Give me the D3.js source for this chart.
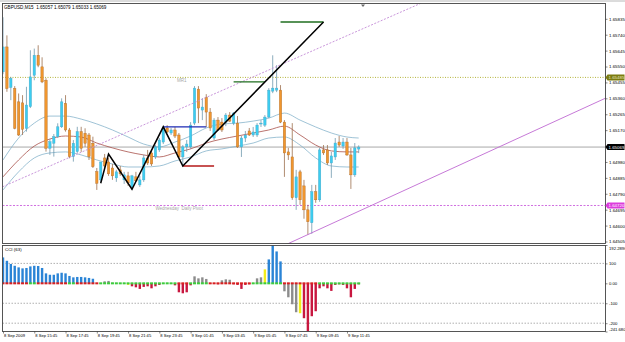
<!doctype html>
<html>
<head>
<meta charset="utf-8">
<script src="https://cdnjs.cloudflare.com/ajax/libs/d3/7.8.5/d3.min.js"></script>
<style>
  body { margin: 0; background: #fff; }
  svg { display: block; font-family: "Liberation Sans", Arial, sans-serif; }
</style>
</head>
<body>
<svg width="625" height="342"></svg>
<script>
// GBPUSD M15, 8 Sep 13:45 .. 9 Sep 12:30 (92 bars)
var symbolTitle = "GBPUSD,M15  1.65057 1.65079 1.65033 1.65069";

var opens = [1.65518,1.65667,1.65425,1.65419,1.65339,1.65333,1.65181,1.65310,1.65498,1.65617,
  1.65548,1.65468,1.65062,1.65092,1.65131,1.65190,1.65330,1.65171,1.65012,1.65042,
  1.65161,1.65151,1.65141,1.65092,1.64922,1.64873,1.65004,1.64980,1.64944,1.64885,
  1.64933,1.64873,1.64897,1.64831,1.64891,1.64843,1.64873,1.65004,1.65034,1.65010,
  1.65052,1.65099,1.65183,1.65153,1.65171,1.65141,1.65010,1.65070,1.65070,1.65212,
  1.65415,1.65290,1.65367,1.65278,1.65123,1.65230,1.65218,1.65218,1.65260,1.65212,
  1.65212,1.65070,1.65123,1.65165,1.65141,1.65141,1.65207,1.65200,1.65248,1.65403,
  1.65409,1.65409,1.65218,1.65040,1.65010,1.64766,1.64921,1.64837,1.64694,1.64617,
  1.64802,1.64754,1.65052,1.65052,1.64974,1.65010,1.65099,1.65075,1.65099,1.65022,
  1.64903,1.65057];
var highs = [1.65844,1.65736,1.65488,1.65433,1.65389,1.65379,1.65429,1.65647,1.65657,1.65677,
  1.65605,1.65480,1.65117,1.65147,1.65211,1.65360,1.65379,1.65183,1.65111,1.65190,
  1.65190,1.65181,1.65153,1.65131,1.64944,1.64962,1.65028,1.65004,1.64968,1.64933,
  1.64956,1.64921,1.64921,1.64903,1.64921,1.64897,1.65022,1.65052,1.65052,1.65081,
  1.65123,1.65190,1.65200,1.65183,1.65189,1.65153,1.65081,1.65111,1.65218,1.65433,
  1.65433,1.65361,1.65385,1.65302,1.65242,1.65248,1.65242,1.65272,1.65278,1.65278,
  1.65254,1.65135,1.65165,1.65183,1.65189,1.65212,1.65230,1.65260,1.65421,1.65617,
  1.65558,1.65439,1.65230,1.65064,1.65212,1.64933,1.64933,1.64873,1.64724,1.64843,
  1.64843,1.65064,1.65081,1.65081,1.65040,1.65123,1.65135,1.65123,1.65123,1.65064,
  1.65093,1.65079];
var lows = [1.65504,1.65399,1.65349,1.65175,1.65135,1.65141,1.65161,1.65302,1.65468,1.65546,
  1.65451,1.65042,1.65022,1.65012,1.65123,1.65183,1.65161,1.65002,1.64982,1.65034,
  1.65040,1.65070,1.64992,1.64944,1.64813,1.64861,1.64944,1.64897,1.64873,1.64861,
  1.64897,1.64849,1.64837,1.64813,1.64861,1.64831,1.64861,1.64962,1.64956,1.64998,
  1.65040,1.65087,1.65153,1.65141,1.65123,1.65004,1.64962,1.65040,1.65058,1.65200,
  1.65212,1.65230,1.65189,1.65165,1.65111,1.65165,1.65159,1.65194,1.65218,1.65200,
  1.65064,1.65010,1.65099,1.65135,1.65129,1.65129,1.65189,1.65189,1.65242,1.65391,
  1.65397,1.65212,1.64891,1.64992,1.64754,1.64694,1.64724,1.64641,1.64545,1.64551,
  1.64736,1.64742,1.65022,1.64962,1.64885,1.64992,1.65070,1.65058,1.65016,1.64819,
  1.64891,1.65033];
var closes = [1.65667,1.65419,1.65479,1.65181,1.65141,1.65175,1.65320,1.65488,1.65617,1.65558,
  1.65458,1.65062,1.65101,1.65131,1.65190,1.65339,1.65171,1.65012,1.65092,1.65161,
  1.65062,1.65092,1.65012,1.64952,1.64853,1.64980,1.64956,1.64909,1.64897,1.64921,
  1.64909,1.64903,1.64855,1.64897,1.64867,1.64873,1.65004,1.64974,1.64968,1.65070,
  1.65111,1.65183,1.65159,1.65171,1.65135,1.65010,1.65070,1.65087,1.65200,1.65421,
  1.65302,1.65308,1.65278,1.65183,1.65230,1.65171,1.65171,1.65260,1.65224,1.65272,
  1.65070,1.65123,1.65141,1.65141,1.65159,1.65200,1.65212,1.65248,1.65409,1.65421,
  1.65421,1.65218,1.65034,1.65022,1.64766,1.64891,1.64754,1.64694,1.64623,1.64802,
  1.64754,1.65052,1.65034,1.64974,1.65016,1.65093,1.65081,1.65099,1.65022,1.64903,
  1.65064,1.65069];

// envelope / moving average read every 4 bars
var maBars = [0,4,8,12,16,20,24,28,32,36,40,44,48,52,56,60,64,68,72,76,80,84,88,91];
var bandUpper = [1.64992,1.65123,1.65212,1.65254,1.65254,1.65236,1.65207,1.65171,1.65129,1.65087,1.65070,1.65099,
  1.65135,1.65183,1.65207,1.65212,1.65224,1.65242,1.65272,1.65230,1.65189,1.65153,1.65129,1.65123];
var bandMiddle = [1.64891,1.64992,1.65075,1.65117,1.65135,1.65129,1.65093,1.65064,1.65040,1.65022,1.65010,1.65034,
  1.65058,1.65093,1.65117,1.65135,1.65153,1.65171,1.65194,1.65141,1.65081,1.65046,1.65040,1.65040];
var bandLower = [1.64813,1.64921,1.65004,1.65034,1.65040,1.65022,1.64992,1.64968,1.64950,1.64950,1.64956,1.64986,
  1.65010,1.65046,1.65058,1.65075,1.65093,1.65123,1.65129,1.65081,1.65004,1.64956,1.64950,1.64950];

// drawn objects
var zigzagBars = [25, 27, 33, 41, 46, 82];
var zigzagPrices = [1.64853, 1.65027, 1.64817, 1.65190, 1.64956, 1.65816];
var segFrom = [41, 46, 59, 71];
var segTo = [52, 54, 67, 82];
var segPrice = [1.65190, 1.64956, 1.65458, 1.65816];
var channelBars = [0, 100];
var channelPrices = [1.64833, 1.65857];
var trendBars = [76, 152];
var trendPrices = [1.64525, 1.65338];
var mr1Level = 1.65485;
var pivotLevel = 1.64720;
var bidLevel = 1.65069;

var priceTicks = [1.65835,1.65740,1.65645,1.65550,1.65455,1.65360,1.65265,1.65170,1.65075,1.64980,1.64885,1.64790,1.64695,1.64600,1.64505];
var dateBars = [0,8,16,24,32,40,48,56,64,72,80,88];
var dateLabels = ["8 Sep 2009","8 Sep 15:45","8 Sep 17:45","8 Sep 19:45","8 Sep 21:45","8 Sep 23:45",
  "9 Sep 01:45","9 Sep 03:45","9 Sep 05:45","9 Sep 07:45","9 Sep 09:45","9 Sep 11:45"];

// CCI(63)
var cciValues = [130,113,97,88,80,75,77,85,88,87,77,50,43,43,50,53,50,37,30,32,32,30,27,23,
  2,-3,10,12,3,2,1,-3,-8,-15,-20,-28,-18,-15,-25,-15,-8,-3,2,-3,-10,-45,-50,-45,-10,35,
  25,30,22,-3,-2,-5,15,20,18,-5,-8,-28,-8,-5,-3,25,30,70,120,192.2896,160,110,
  -40,-70,-105,-145,-150,-175,-241.68,-165,-140,-25,-15,-25,-38,-8,-5,-8,-25,-70,-28,-5];
var cciState = ("bbbbbbbbbbbbbbbbbbbbbbbb" + "gggggggg" + "y" + "rrrrrrrr" + "ggg" + "rrrrr" + "gggg" +
  "rrr" + "ggg" + "rrrrrr" + "gg" + "y" + "bbbb" + "gggg" + "y" + "rrrrrrrrrrrrrrr").split("");
var cciDots = ("RRRRRRR" + "GG" + "RRRRRRRR" + "GG" + "RRRRRR" + "GGGGGGGGGGGGGGGGGGGG" + "RRR" +
  "GGGGG" + "RRRRRRRRRRR" + "GGGGGGGG" + "RRRRRRRRR" + "GGGGGGGGGGG").split("");
var cciTicks = [192.2896, 100, 0, -100, -200, -241.68];
var cciTickLabels = ["192.2896", "100", "0.00", "-100", "-200", "-241.680"];

var svg = d3.select("svg");
var L = 2.5, R = 605.5, mainTop = 3.5, mainBot = 243.5, cciTop = 245.5, cciBot = 331.5;

var x = d3.scaleLinear().domain([0, 91]).range([3, 358.7]);
var y = d3.scaleLinear().domain([1.64505, 1.65835]).range([241.5, 18.8]);
var yc = d3.scaleLinear().domain([-241.68, 192.2896]).range([331.5, 245]);

var defs = svg.append("defs");
defs.append("clipPath").attr("id", "clipMain").append("rect")
  .attr("x", L).attr("y", mainTop).attr("width", R - L).attr("height", mainBot - mainTop);
defs.append("clipPath").attr("id", "clipCci").append("rect")
  .attr("x", L).attr("y", cciTop).attr("width", R - L).attr("height", cciBot - cciTop);

svg.append("line").attr("x1", 0).attr("x2", 625).attr("y1", 1).attr("y2", 1).attr("stroke", "#b8b8b8");

var main = svg.append("g").attr("clip-path", "url(#clipMain)");

// horizontal levels
main.append("line").attr("x1", L).attr("x2", R).attr("y1", y(mr1Level)).attr("y2", y(mr1Level))
  .attr("stroke", "#b4b43c").attr("stroke-dasharray", "1,1.5");
main.append("line").attr("x1", L).attr("x2", R).attr("y1", y(pivotLevel)).attr("y2", y(pivotLevel))
  .attr("stroke", "#d070e0").attr("stroke-dasharray", "2,1.5");
main.append("line").attr("x1", L).attr("x2", R).attr("y1", y(bidLevel)).attr("y2", y(bidLevel))
  .attr("stroke", "#a8a8a8");

main.append("text").attr("x", x(44.5)).attr("y", y(mr1Level) + 5).attr("font-size", 4.5)
  .attr("fill", "#a8a8a8").text("MR1");
main.append("text").attr("x", x(39)).attr("y", y(pivotLevel) + 4.5).attr("font-size", 4.5)
  .attr("fill", "#a8a8a8").text("Wednesday  Daily Pivot").attr("xml:space", "preserve");

// bands
var band = d3.line().x((d, i) => x(maBars[i])).y(d => y(d)).curve(d3.curveMonotoneX);
[[bandUpper, "#86b4cc"], [bandMiddle, "#a8504a"], [bandLower, "#86b4cc"]].forEach(function (b) {
  main.append("path").datum(b[0]).attr("d", band).attr("fill", "none")
    .attr("stroke", b[1]).attr("stroke-width", 0.8);
});

// candles
var bars = d3.range(opens.length).map(function (i) {
  return { i: i, o: opens[i], h: highs[i], l: lows[i], c: closes[i] };
});
var cg = main.append("g").selectAll("g").data(bars).enter().append("g");
cg.append("line")
  .attr("x1", d => x(d.i)).attr("x2", d => x(d.i))
  .attr("y1", d => y(d.h)).attr("y2", d => y(d.l))
  .attr("stroke", d => d.c >= d.o ? "#6f98ad" : "#9c6e4c").attr("stroke-width", 0.8);
cg.append("rect")
  .attr("x", d => x(d.i) - 1.2).attr("width", 2.4)
  .attr("y", d => y(Math.max(d.o, d.c)))
  .attr("height", d => Math.max(0.9, Math.abs(y(d.o) - y(d.c))))
  .attr("fill", d => d.c >= d.o ? "#3ccdf0" : "#f0962e")
  .attr("stroke", d => d.c >= d.o ? "#4aa6c6" : "#b06c28").attr("stroke-width", 0.4);

// trend lines (rays extended across the pane)
function ray(bs, ps) {
  var x0 = x(bs[0]), y0 = y(ps[0]), x1 = x(bs[1]), y1 = y(ps[1]);
  var k = (y1 - y0) / (x1 - x0);
  return [[L, y0 + k * (L - x0)], [R, y0 + k * (R - x0)]];
}
var c1 = ray(channelBars, channelPrices);
main.append("line").attr("x1", c1[0][0]).attr("y1", c1[0][1]).attr("x2", c1[1][0]).attr("y2", c1[1][1])
  .attr("stroke", "#c38ad6").attr("stroke-dasharray", "2,1.5").attr("stroke-width", 0.9);
var t1 = ray(trendBars, trendPrices);
main.append("line").attr("x1", t1[0][0]).attr("y1", t1[0][1]).attr("x2", t1[1][0]).attr("y2", t1[1][1])
  .attr("stroke", "#c06ad2").attr("stroke-width", 0.9);

// pattern segments
var segColors = ["#1c2ab4", "#b41818", "#1f6e1f", "#1f6e1f"];
segFrom.forEach(function (f, i) {
  main.append("line").attr("x1", x(f)).attr("x2", x(segTo[i]))
    .attr("y1", y(segPrice[i])).attr("y2", y(segPrice[i]))
    .attr("stroke", segColors[i]).attr("stroke-width", 1.3);
});
var zz = d3.line().x((d, i) => x(zigzagBars[i])).y(d => y(d));
main.append("path").datum(zigzagPrices).attr("d", zz).attr("fill", "none")
  .attr("stroke", "#000").attr("stroke-width", 1.5).attr("stroke-linejoin", "miter");

// title and shift marker
svg.append("text").attr("x", 4).attr("y", 9.3).attr("font-size", 4.6).attr("fill", "#000")
  .attr("xml:space", "preserve").text(symbolTitle);
svg.append("path").attr("d", "M361,4.5 L365,4.5 L363,7 Z").attr("fill", "#666");

// CCI pane
var cci = svg.append("g").attr("clip-path", "url(#clipCci)");
[100, -100, -200].forEach(function (v) {
  cci.append("line").attr("x1", L).attr("x2", R).attr("y1", yc(v)).attr("y2", yc(v))
    .attr("stroke", "#9c9c9c").attr("stroke-dasharray", "1.5,1.5").attr("stroke-width", 0.8);
});
var stateColor = { b: "#2a84d6", r: "#c8173f", g: "#8c8c8c", y: "#f0ec1c" };
cci.selectAll("rect.h").data(cciValues).enter().append("rect").attr("class", "h")
  .attr("x", (d, i) => x(i) - 1.2).attr("width", 2.4)
  .attr("y", d => Math.min(yc(0), yc(d)))
  .attr("height", d => Math.abs(yc(d) - yc(0)))
  .attr("fill", (d, i) => stateColor[cciState[i]]);
cci.selectAll("rect.z").data(cciDots).enter().append("rect").attr("class", "z")
  .attr("x", (d, i) => x(i) - 1.5).attr("width", 3)
  .attr("y", yc(0) - 1).attr("height", 2)
  .attr("fill", d => d === "G" ? "#3ccc3c" : "#d82020");
svg.append("text").attr("x", 5).attr("y", 251).attr("font-size", 4.4).attr("fill", "#000")
  .attr("xml:space", "preserve").text("CCI (63)");

// frames
svg.append("rect").attr("x", L).attr("y", mainTop).attr("width", R - L).attr("height", mainBot - mainTop)
  .attr("fill", "none").attr("stroke", "#444").attr("stroke-width", 0.9);
svg.append("rect").attr("x", L).attr("y", cciTop).attr("width", R - L).attr("height", cciBot - cciTop)
  .attr("fill", "none").attr("stroke", "#444").attr("stroke-width", 0.9);

// price axis
var pa = svg.append("g").attr("transform", "translate(" + R + ",0)")
  .call(d3.axisRight(y).tickValues(priceTicks).tickSize(2).tickPadding(1.5).tickFormat(d3.format(".5f")));
pa.select(".domain").remove();
pa.attr("font-size", 4.4).attr("font-family", null);
pa.selectAll("line").attr("stroke", "#333").attr("stroke-width", 0.6);

// value boxes on the price axis
[[mr1Level, "#7c7c10", "#e8e8c0"], [bidLevel, "#000", "#fff"], [pivotLevel, "#dc3cdc", "#fff"]].forEach(function (m) {
  var yy = y(m[0]);
  svg.append("path")
    .attr("d", "M" + R + "," + yy + " L" + (R + 2) + "," + (yy - 3) + " L624.5," + (yy - 3) +
      " L624.5," + (yy + 3) + " L" + (R + 2) + "," + (yy + 3) + " Z")
    .attr("fill", m[1]);
  svg.append("text").attr("x", R + 3).attr("y", yy).attr("dy", "0.34em").attr("font-size", 4.4)
    .attr("fill", m[2]).text(d3.format(".5f")(m[0]));
});

// CCI axis
var ca = svg.append("g").attr("transform", "translate(" + R + ",0)")
  .call(d3.axisRight(yc).tickValues(cciTicks).tickSize(2).tickPadding(1.5)
    .tickFormat((d, i) => cciTickLabels[i]));
ca.select(".domain").remove();
ca.attr("font-size", 4.2).attr("font-family", null);
ca.selectAll("line").attr("stroke", "#333").attr("stroke-width", 0.6);
ca.selectAll("text").attr("dy", (d, i) => i === 0 ? "1.0em" : (i === cciTicks.length - 1 ? "-0.3em" : "0.32em"));

// time axis
var ta = svg.append("g").attr("transform", "translate(0," + cciBot + ")")
  .call(d3.axisBottom(x).tickValues(dateBars).tickSize(2).tickPadding(1)
    .tickFormat((d, i) => dateLabels[i]));
ta.select(".domain").remove();
ta.attr("font-size", 4.1).attr("font-family", null);
ta.selectAll("text").attr("text-anchor", "start").attr("x", 0.5);
ta.selectAll("line").attr("stroke", "#333").attr("stroke-width", 0.6);
</script>
</body>
</html>
